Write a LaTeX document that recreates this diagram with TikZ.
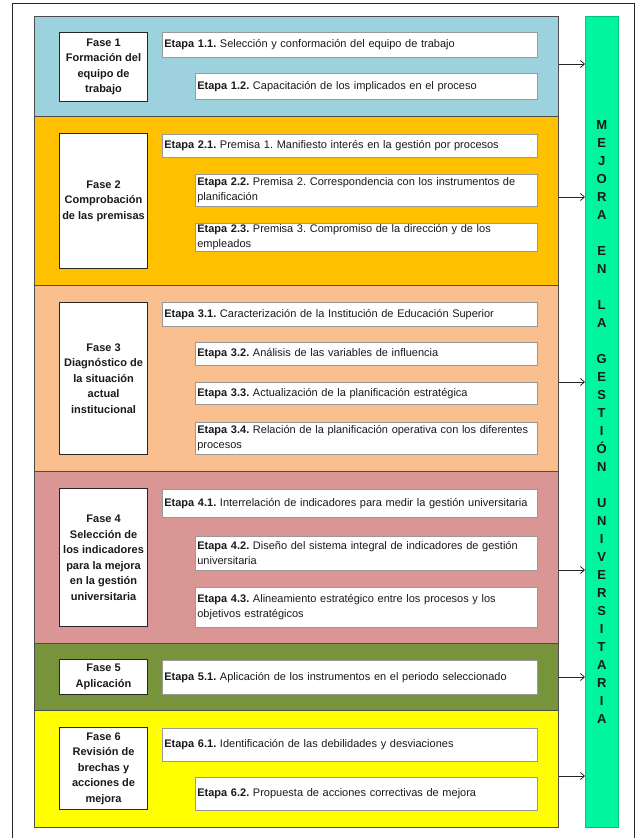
\documentclass[tikz,border=0pt]{standalone}
\usepackage{fontspec}
\setmainfont{Liberation Sans}
\usetikzlibrary{arrows.meta,shadows}
\frenchspacing
\definecolor{c1}{HTML}{9DD1DD}
\definecolor{c2}{HTML}{FFC000}
\definecolor{c3}{HTML}{FABF8F}
\definecolor{c4}{HTML}{D99694}
\definecolor{c5}{HTML}{77933C}
\definecolor{c6}{HTML}{FFFF00}
\definecolor{cg}{HTML}{00F59E}
\definecolor{txt}{HTML}{1A1A1A}
\tikzset{
  band/.style={draw=black!70, line width=0.8pt, inner sep=0pt, anchor=north west, minimum width=524pt},
  fasebox/.style={draw=black!85, line width=1.1pt, fill=white, anchor=north west, minimum width=88pt,
    inner sep=0pt, align=center, text=txt, font=\bfseries\fontsize{11}{15.5}\selectfont},
  etapa/.style={draw=black!40, line width=0.7pt, fill=white, anchor=north west, inner xsep=2pt, inner ysep=0pt,
    align=left, text=txt, font=\fontsize{11}{15}\selectfont\frenchspacing,
    drop shadow={shadow xshift=0.8pt, shadow yshift=-0.8pt, fill=black, opacity=0.2}},
  etA/.style={etapa, text width=371pt},
  etB/.style={etapa, text width=338pt},
  arr/.style={-{Straight Barb[length=4pt,width=7pt]}, line width=0.8pt, draw=black!85},
}
\begin{document}
\begin{tikzpicture}[x=1pt,y=-1pt]
\useasboundingbox (0,0) rectangle (638,838);
% outer frame
\draw[line width=1pt, black!85] (12,838) -- (12,3.5) -- (634,3.5) -- (634,838);

% bands
\node[band, fill=c1, minimum height=100pt] (p1) at (34,16) {};
\node[band, fill=c2, minimum height=169pt] (p2) at (34,116) {};
\node[band, fill=c3, minimum height=186pt] (p3) at (34,285) {};
\node[band, fill=c4, minimum height=172pt] (p4) at (34,471) {};
\node[band, fill=c5, minimum height=67pt] (p5) at (34,643) {};
\node[band, fill=c6, minimum height=117pt] (p6) at (34,710) {};

% improvement column
\node[draw=cg!80!black, line width=0.4pt, fill=cg, anchor=north west, minimum width=33pt, minimum height=811pt, inner sep=0pt] (col) at (585,16) {};
\node[font=\bfseries\fontsize{13}{18}\selectfont, align=center, text=txt] (word) at (col.center)
 {M\\E\\J\\O\\R\\A\\[18pt]E\\N\\[18pt]L\\A\\[18pt]G\\E\\S\\T\\I\\Ó\\N\\[18pt]U\\N\\I\\V\\E\\R\\S\\I\\T\\A\\R\\I\\A};

% fase boxes
\node[fasebox, minimum height=69pt] (f1) at (59,32) {Fase 1\\Formación del\\equipo de\\trabajo};
\node[fasebox, minimum height=135pt] (f2) at (59,133) {Fase 2\\Comprobación\\de las premisas};
\node[fasebox, minimum height=152pt] (f3) at (59,302) {Fase 3\\Diagnóstico de\\la situación\\actual\\institucional};
\node[fasebox, minimum height=138pt] (f4) at (59,488) {Fase 4\\Selección de\\los indicadores\\para la mejora\\en la gestión\\universitaria};
\node[fasebox, minimum height=35pt] (f5) at (59,659) {Fase 5\\Aplicación};
\node[fasebox, minimum height=82pt] (f6) at (59,727) {Fase 6\\Revisión de\\brechas y\\acciones de\\mejora};

% etapas
\node[etA, minimum height=25pt] (e11) at (162,32) {\textbf{Etapa 1.1.} Selección y conformación del equipo de trabajo};
\node[etB, minimum height=26pt] (e12) at (195,73) {\textbf{Etapa 1.2.} Capacitación de los implicados en el proceso};

\node[etA, minimum height=23pt] (e21) at (162,134) {\textbf{Etapa 2.1.} Premisa 1. Manifiesto interés en la gestión por procesos};
\node[etB, minimum height=32pt] (e22) at (195,174) {\textbf{Etapa 2.2.} Premisa 2. Correspondencia con los instrumentos de\\planificación};
\node[etB, minimum height=28pt] (e23) at (195,223) {\textbf{Etapa 2.3.} Premisa 3. Compromiso de la dirección y de los\\empleados};

\node[etA, minimum height=24pt] (e31) at (162,302) {\textbf{Etapa 3.1.} Caracterización de la Institución de Educación Superior};
\node[etB, minimum height=23pt] (e32) at (195,342) {\textbf{Etapa 3.2.} Análisis de las variables de influencia};
\node[etB, minimum height=22pt] (e33) at (195,382) {\textbf{Etapa 3.3.} Actualización de la planificación estratégica};
\node[etB, minimum height=32pt] (e34) at (195,422) {\textbf{Etapa 3.4.} Relación de la planificación operativa con los diferentes\\procesos};

\node[etA, minimum height=28pt] (e41) at (162,489) {\textbf{Etapa 4.1.} Interrelación de indicadores para medir la gestión universitaria};
\node[etB, minimum height=34pt] (e42) at (195,536) {\textbf{Etapa 4.2.} Diseño del sistema integral de indicadores de gestión\\universitaria};
\node[etB, minimum height=40pt] (e43) at (195,587) {\textbf{Etapa 4.3.} Alineamiento estratégico entre los procesos y los\\objetivos estratégicos};

\node[etA, minimum height=34pt] (e51) at (162,660) {\textbf{Etapa 5.1.} Aplicación de los instrumentos en el periodo seleccionado};

\node[etA, minimum height=33pt] (e61) at (162,728) {\textbf{Etapa 6.1.} Identificación de las debilidades y desviaciones};
\node[etB, minimum height=33pt] (e62) at (195,777) {\textbf{Etapa 6.2.} Propuesta de acciones correctivas de mejora};

% arrows
\coordinate (a1) at (0,64);
\coordinate (a2) at (0,197);
\coordinate (a3) at (0,382);
\coordinate (a4) at (0,570);
\coordinate (a5) at (0,677);
\coordinate (a6) at (0,776);
\foreach \p/\a in {p1/a1,p2/a2,p3/a3,p4/a4,p5/a5,p6/a6}
  \draw[arr] (\p.east |- \a) -- (col.west |- \a);
\end{tikzpicture}
\end{document}
